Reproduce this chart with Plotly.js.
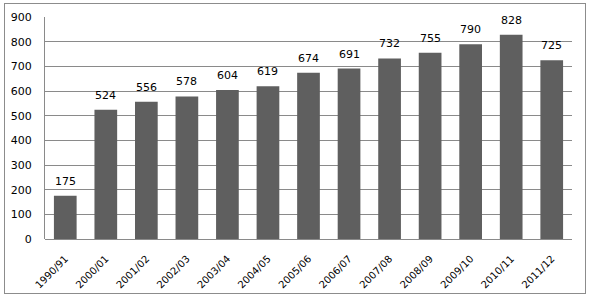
<!DOCTYPE html>
<html><head><meta charset="utf-8">
<script src="https://cdn.plot.ly/plotly-3.0.1.min.js"></script>
<style>
html,body{margin:0;padding:0;background:#fff;}
#frame{position:absolute;left:4px;top:3px;width:580px;height:289px;border:1px solid #8c8c8c;pointer-events:none;z-index:10;}
#chart{position:absolute;left:0;top:0;width:591px;height:304px;}
</style></head>
<body>
<div id="chart"></div>
<div id="frame"></div>
<script>
const categories = ["1990/91","2000/01","2001/02","2002/03","2003/04","2004/05","2005/06","2006/07","2007/08","2008/09","2009/10","2010/11","2011/12"];
const values = [175,524,556,578,604,619,674,691,732,755,790,828,725];
const yTicks = [0,100,200,300,400,500,600,700,800,900];

const fam = "DejaVu Sans, Verdana, sans-serif";

const annotations = categories.map((c,i)=>({
  x:c, y:values[i], xref:"x", yref:"y",
  text:String(values[i]), showarrow:false,
  yanchor:"bottom", xanchor:"center", yshift:6,
  font:{family:fam,size:11,color:"#000"}
}));

Plotly.newPlot("chart",[{
  type:"bar",
  x:categories,
  y:values,
  marker:{color:"#5f5f5f",line:{width:0}},
  width:0.56,
  hoverinfo:"none"
}],{
  width:591,height:304,
  margin:{l:45,r:19,t:17,b:65},
  paper_bgcolor:"#fff",plot_bgcolor:"#fff",
  font:{family:fam,size:11,color:"#000"},
  showlegend:false,
  annotations:annotations,
  xaxis:{
    type:"category",
    tickangle:-45,
    showgrid:false,
    showline:false,
    ticks:"",
    ticklabelstandoff:11,
    tickfont:{family:fam,size:10,color:"#000"},
    fixedrange:true
  },
  yaxis:{
    range:[0,900],
    tickvals:yTicks,
    ticktext:yTicks.map(String),
    showgrid:true,
    gridcolor:"#8a8a8a",
    gridwidth:1,
    zeroline:true,
    zerolinecolor:"#8a8a8a",
    zerolinewidth:1,
    showline:true,
    linecolor:"#8a8a8a",
    linewidth:1,
    ticks:"",
    ticklabelstandoff:10,
    tickfont:{family:fam,size:11,color:"#000"},
    fixedrange:true
  }
},{staticPlot:true,displayModeBar:false});
</script>
</body></html>
